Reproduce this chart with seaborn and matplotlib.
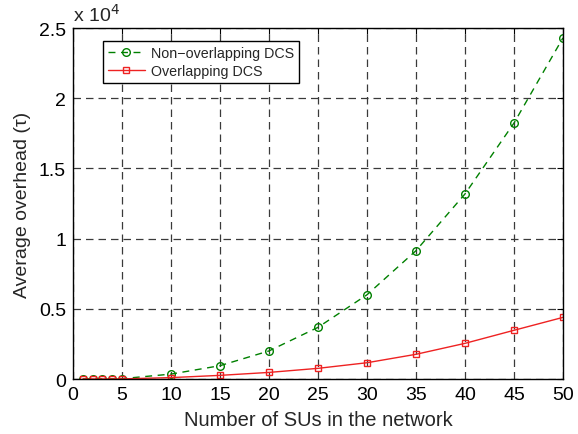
import matplotlib
matplotlib.use("Agg")
import matplotlib.pyplot as plt
import seaborn as sns
import pandas as pd

# Data
num_sus = [1, 2, 3, 4, 5, 10, 15, 20, 25, 30, 35, 40, 45, 50]
non_overlapping = [0, 2, 5, 12, 25, 350, 950, 2000, 3680, 6000, 9140, 13180, 18230, 24300]
overlapping = [0, 1, 2, 4, 8, 100, 260, 470, 760, 1160, 1760, 2540, 3470, 4390]
series_names = ["Non\u2212overlapping DCS", "Overlapping DCS"]
y_ticks = [0, 5000, 10000, 15000, 20000, 25000]
y_tick_labels = ["0", "0.5", "1", "1.5", "2", "2.5"]
x_ticks = [0, 5, 10, 15, 20, 25, 30, 35, 40, 45, 50]

sns.set_style("white")
plt.rcParams['font.family'] = ['Liberation Sans', 'DejaVu Sans']

fig = plt.figure(figsize=(5.78, 4.35), dpi=100)
ax = fig.add_axes([0.1263, 0.1264, 0.974 - 0.1263, 0.9333 - 0.1264])

df1 = pd.DataFrame({"x": num_sus, "y": non_overlapping})
df2 = pd.DataFrame({"x": num_sus, "y": overlapping})

sns.lineplot(data=df1, x="x", y="y", ax=ax, color="#008000", linestyle=(0, (5, 4)),
             linewidth=1.0, marker="o", markersize=5.5, markerfacecolor="none",
             markeredgecolor="#008000", markeredgewidth=1.0, label=series_names[0])
sns.lineplot(data=df2, x="x", y="y", ax=ax, color="#ee2222", linestyle="-",
             linewidth=1.0, marker="s", markersize=4.8, markerfacecolor="none",
             markeredgecolor="#ee2222", markeredgewidth=1.0, label=series_names[1])

ax.set_xlim(0, 50)
ax.set_ylim(0, 25000)
ax.set_xticks(x_ticks)
ax.set_yticks(y_ticks)
ax.set_yticklabels(y_tick_labels)
ax.tick_params(direction="in", length=4, width=0.8, top=True, right=True,
               labelsize=14, colors="black", pad=5)
ax.grid(True, color="#3a3a3a", linestyle=(0, (6, 4)), linewidth=0.9)
for s in ax.spines.values():
    s.set_visible(True)
    s.set_color("black")
    s.set_linewidth(1.0)

ax.set_xlabel("Number of SUs in the network", fontsize=14.5, labelpad=5)
ax.set_ylabel("Average overhead (\u03c4)", fontsize=14, labelpad=6)
ax.text(0.0, 1.01, r"x 10$^{4}$", transform=ax.transAxes, fontsize=14,
        ha="left", va="bottom")

leg = ax.legend(loc="upper left", bbox_to_anchor=(0.061, 0.962), borderaxespad=0,
                fontsize=10.3, frameon=True, fancybox=False, framealpha=1,
                edgecolor="black", handlelength=2.6, borderpad=0.35, labelspacing=0.25,
                handletextpad=0.4)
leg.get_frame().set_linewidth(1.0)

fig.savefig("out.png", dpi=100)
